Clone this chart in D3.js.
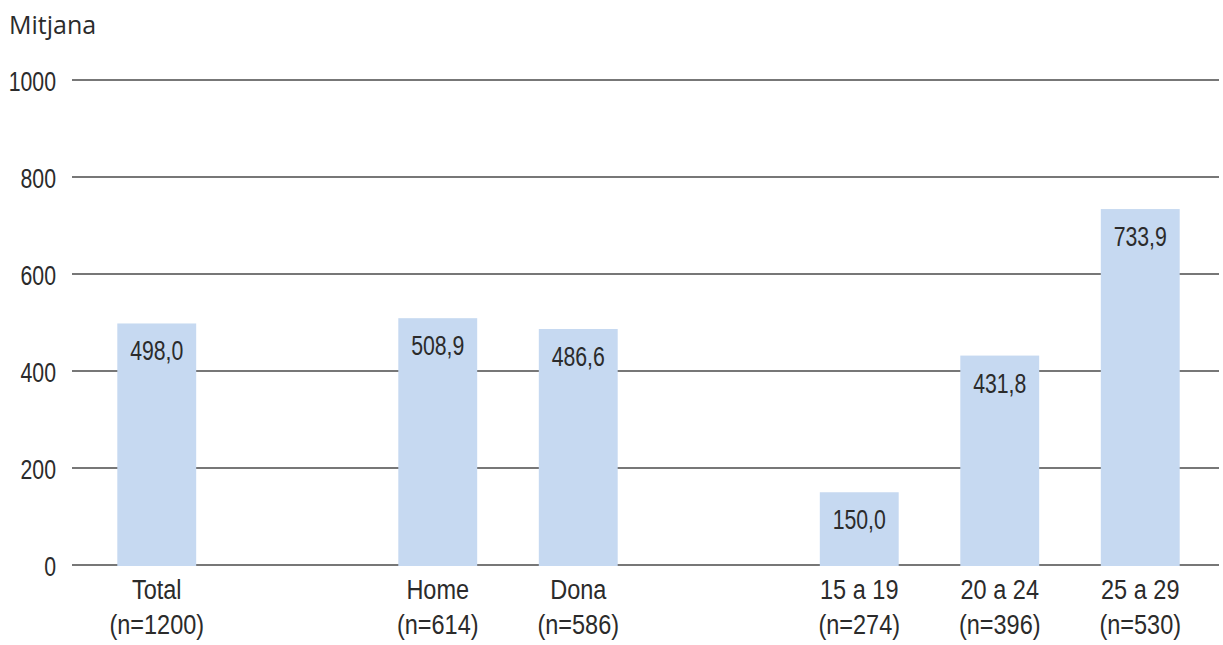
<!DOCTYPE html>
<html>
<head>
<meta charset="utf-8">
<script src="https://cdn.jsdelivr.net/npm/d3@7"></script>
<style>
html,body{margin:0;padding:0;background:#fff;}
svg{display:block;}
</style>
</head>
<body>
<svg id="chart" width="1223" height="645"></svg>
<script>
// Data
const categories = ["Total", "gap1", "Home", "Dona", "gap2", "15 a 19", "20 a 24", "25 a 29"];
const barCategories = ["Total", "Home", "Dona", "15 a 19", "20 a 24", "25 a 29"];
const sampleSizes = ["(n=1200)", "(n=614)", "(n=586)", "(n=274)", "(n=396)", "(n=530)"];
const values = [498.0, 508.9, 486.6, 150.0, 431.8, 733.9];
const yTicks = [0, 200, 400, 600, 800, 1000];
const yTitle = "Mitjana";

const svg = d3.select("#chart");
const condFont = "'Liberation Sans', Arial, sans-serif";
const condSize = 28;
const numScale = 0.76;
const catScale = 0.84;

const x = d3.scaleBand()
  .domain(categories)
  .range([86.5, 1210.5])
  .paddingInner(0.4385)
  .paddingOuter(0.21925);

const y = d3.scaleLinear().domain([0, 1000]).range([565, 80]);

function condText(g, anchor) {
  return g.attr("text-anchor", anchor)
    .attr("font-family", condFont)
    .attr("font-size", condSize)
    .attr("fill", "#2b2b2b");
}

// gridlines
svg.append("g").selectAll("line")
  .data(yTicks)
  .join("line")
  .attr("x1", 72).attr("x2", 1219)
  .attr("y1", d => y(d)).attr("y2", d => y(d))
  .attr("stroke", "#4a4a4a")
  .attr("stroke-width", 1.4);

// y tick labels
condText(svg.append("g").selectAll("text")
  .data(yTicks)
  .join("text")
  .attr("transform", d => `translate(56,${y(d) + 11}) scale(${numScale},1)`), "end")
  .text(d => d);

// title
svg.append("text")
  .attr("x", 9).attr("y", 34)
  .attr("font-family", "'Open Sans', 'Noto Sans', sans-serif")
  .attr("font-size", 25)
  .attr("fill", "#2b2b2b")
  .text(yTitle);

const rows = barCategories.map((c, i) => ({c, v: values[i], n: sampleSizes[i]}));
const cx = d => x(d.c) + x.bandwidth() / 2;

// bars
svg.append("g").selectAll("rect")
  .data(rows)
  .join("rect")
  .attr("x", d => x(d.c))
  .attr("width", x.bandwidth())
  .attr("y", d => y(d.v))
  .attr("height", d => y(0) - y(d.v) + 1)
  .attr("fill", "#c6d9f1");

// value labels
const fmt = v => v.toFixed(1).replace(".", ",");
condText(svg.append("g").selectAll("text")
  .data(rows)
  .join("text")
  .attr("transform", d => `translate(${cx(d)},${y(d.v) + 37}) scale(${numScale},1)`), "middle")
  .text(d => fmt(d.v));

// category labels
condText(svg.append("g").selectAll("text")
  .data(rows)
  .join("text")
  .attr("transform", d => `translate(${cx(d)},599) scale(${catScale},1)`), "middle")
  .text(d => d.c);
condText(svg.append("g").selectAll("text")
  .data(rows)
  .join("text")
  .attr("transform", d => `translate(${cx(d)},634) scale(${catScale},1)`), "middle")
  .text(d => d.n);
</script>
</body>
</html>
